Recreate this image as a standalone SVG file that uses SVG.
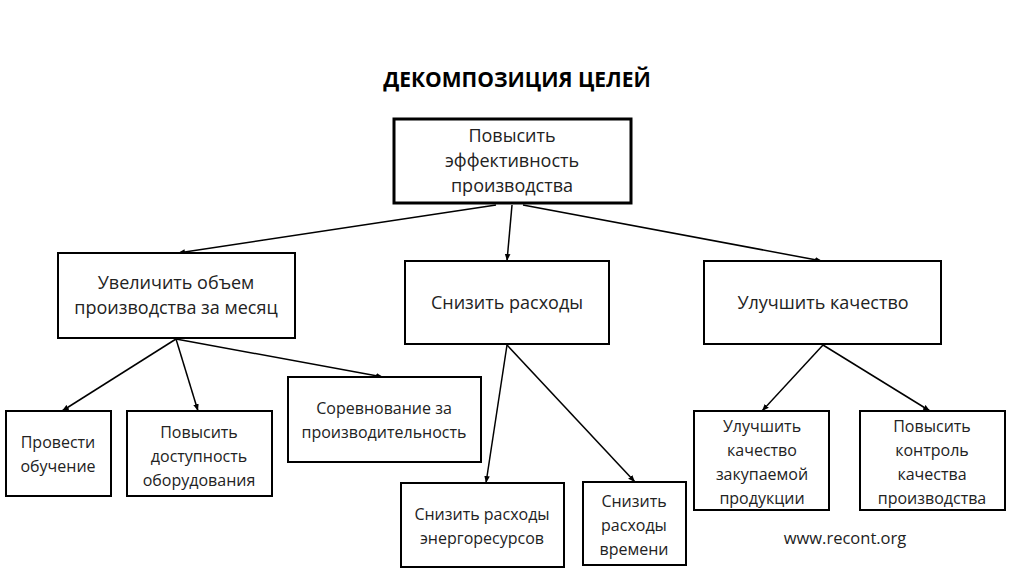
<svg xmlns="http://www.w3.org/2000/svg" width="1024" height="576" viewBox="0 0 1024 576">
<style>
.box{fill:#fff;stroke:#000;stroke-width:2}
.root{fill:#fff;stroke:#000;stroke-width:3}
.t{font-family:"Open Sans","Liberation Sans",sans-serif;font-size:16px;fill:#222;text-anchor:middle}
.tl{font-family:"Open Sans","Liberation Sans",sans-serif;font-size:18px;fill:#222;text-anchor:middle}
.title{font-family:"Open Sans","Liberation Sans",sans-serif;font-size:21px;font-weight:bold;fill:#000;text-anchor:middle}
.c{stroke:#000;stroke-width:1.5;fill:none;marker-end:url(#a)}
</style>
<defs>
<marker id="a" viewBox="0 0 10 10" refX="10" refY="5" markerWidth="7" markerHeight="7" orient="auto" markerUnits="userSpaceOnUse">
<path d="M0,1 L10,5 L0,9 z" fill="#000"/>
</marker>
</defs>
<rect width="1024" height="576" fill="#fff"/>
<text class="title" x="517" y="87">ДЕКОМПОЗИЦИЯ ЦЕЛЕЙ</text>
<g id="connectors">
<line class="c" x1="496" y1="205" x2="178" y2="253"/>
<line class="c" x1="512" y1="205" x2="507" y2="261"/>
<line class="c" x1="523" y1="205" x2="822" y2="261"/>
<line class="c" x1="176" y1="339" x2="62" y2="411"/>
<line class="c" x1="176" y1="339" x2="198" y2="411"/>
<line class="c" x1="176" y1="339" x2="383" y2="377"/>
<line class="c" x1="507" y1="345" x2="486" y2="483"/>
<line class="c" x1="507" y1="345" x2="635" y2="482"/>
<line class="c" x1="823" y1="345" x2="762" y2="411"/>
<line class="c" x1="823" y1="345" x2="930" y2="411"/>
</g>
<g id="n-root">
<rect class="root" x="394" y="119" width="237" height="84"/>
<text class="tl" x="512" y="142">Повысить</text>
<text class="tl" x="512" y="167">эффективность</text>
<text class="tl" x="512" y="192">производства</text>
</g>
<g id="n-volume">
<rect class="box" x="58" y="253" width="237" height="85"/>
<text class="tl" x="176" y="289">Увеличить объем</text>
<text class="tl" x="176" y="314">производства за месяц</text>
</g>
<g id="n-costs">
<rect class="box" x="405" y="261" width="204" height="83"/>
<text class="tl" x="507" y="309">Снизить расходы</text>
</g>
<g id="n-quality">
<rect class="box" x="704" y="261" width="237" height="83"/>
<text class="tl" x="823" y="309">Улучшить качество</text>
</g>
<g id="n-training">
<rect class="box" x="6" y="411" width="105" height="85"/>
<text class="t" x="58" y="448">Провести</text>
<text class="t" x="58" y="472">обучение</text>
</g>
<g id="n-equipment">
<rect class="box" x="127" y="411" width="145" height="85"/>
<text class="t" x="199" y="438">Повысить</text>
<text class="t" x="199" y="462">доступность</text>
<text class="t" x="199" y="486">оборудования</text>
</g>
<g id="n-competition">
<rect class="box" x="288" y="377" width="193" height="85"/>
<text class="t" x="384" y="414">Соревнование за</text>
<text class="t" x="384" y="438">производительность</text>
</g>
<g id="n-energy">
<rect class="box" x="401" y="483" width="163" height="84"/>
<text class="t" x="482" y="520">Снизить расходы</text>
<text class="t" x="482" y="544">энергоресурсов</text>
</g>
<g id="n-time">
<rect class="box" x="583" y="482" width="103" height="83"/>
<text class="t" x="634" y="507">Снизить</text>
<text class="t" x="634" y="531">расходы</text>
<text class="t" x="634" y="555">времени</text>
</g>
<g id="n-purchased">
<rect class="box" x="694" y="411" width="135" height="99"/>
<text class="t" x="762" y="432">Улучшить</text>
<text class="t" x="762" y="456">качество</text>
<text class="t" x="762" y="480">закупаемой</text>
<text class="t" x="762" y="504">продукции</text>
</g>
<g id="n-control">
<rect class="box" x="860" y="411" width="145" height="99"/>
<text class="t" x="932" y="432">Повысить</text>
<text class="t" x="932" y="456">контроль</text>
<text class="t" x="932" y="480">качества</text>
<text class="t" x="932" y="504">производства</text>
</g>
<text class="t" x="845" y="544" style="font-size:16.5px">www.recont.org</text>
</svg>
